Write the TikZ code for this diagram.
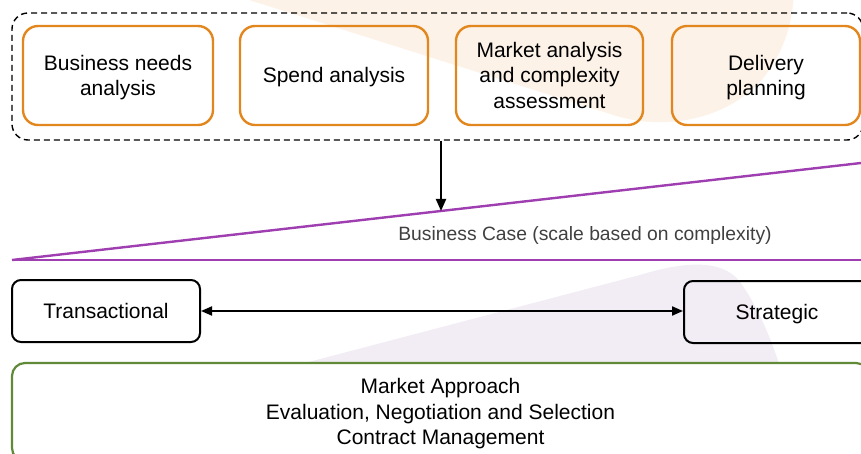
\documentclass[tikz,border=0pt]{standalone}
\usepackage{fontspec}
\setmainfont{Liberation Sans}
\usetikzlibrary{arrows.meta}
\definecolor{stageorange}{RGB}{226,135,30}
\definecolor{casepurple}{RGB}{158,62,176}
\definecolor{approachgreen}{RGB}{96,138,56}
\definecolor{tintorange}{RGB}{252,242,232}
\definecolor{tintpurple}{RGB}{242,236,244}
\definecolor{casegray}{RGB}{64,64,64}
% centred lines of text, lowered slightly inside their boxes
\newcommand\boxlines[1]{\raisebox{-2.2pt}[\height][\depth]{\begin{tabular}{@{}c@{}}#1\end{tabular}}}
\tikzset{
  stagebox/.style={draw=stageorange, line width=2.4pt, rounded corners=15pt,
    minimum height=99pt, inner sep=0pt,
    font=\fontsize{21}{25.5}\selectfont},
  groupbox/.style={draw=black, line width=1.4pt, dash pattern=on 6pt off 4pt,
    rounded corners=16pt, minimum width=851pt, minimum height=127pt, inner sep=0pt},
  typebox/.style={draw=black, line width=2pt, rounded corners=9pt,
    minimum height=62pt, inner sep=0pt, font=\fontsize{21}{25}\selectfont},
  approachbox/.style={draw=approachgreen, fill=white, line width=2.2pt, rounded corners=13pt,
    minimum width=857pt, minimum height=98pt, inner sep=0pt,
    font=\fontsize{21}{25.5}\selectfont},
  caseline/.style={draw=casepurple, line width=2.4pt},
  flow/.style={line width=2pt, -{Triangle[length=12pt,width=10pt]}},
  span/.style={line width=2pt, {Triangle[length=11pt,width=9pt]}-{Triangle[length=11pt,width=9pt]}},
}
\begin{document}
\begin{tikzpicture}[x=1pt, y=-1pt]
\useasboundingbox (0,0) rectangle (861,454);

% soft background shapes
\fill[tintorange] (230,-6) -- (610,114)
  .. controls (660,131) and (722,122) .. (760,82)
  .. controls (784,54) and (792,24) .. (794,-6) -- cycle;
\fill[tintpurple] (164,400) -- (640,275)
  .. controls (682,262) and (722,258) .. (740,282)
  .. controls (756,304) and (772,338) .. (784,380)
  -- (790,400) -- cycle;

% preparation stages
\node[groupbox] (group) at (437.5,76.5) {};
\node[stagebox, minimum width=190pt] (needs) at (118,75.5) {\boxlines{Business needs\\analysis}};
\node[stagebox, minimum width=188pt] (spend) at (334,75.5) {\boxlines{Spend analysis}};
\node[stagebox, minimum width=187pt] (market) at (549.5,75.5) {\boxlines{Market analysis\\and complexity\\assessment}};
\node[stagebox, minimum width=188pt] (delivery) at (766,75.5) {\boxlines{Delivery\\planning}};

% business case wedge
\coordinate (apex) at (12,260);
\coordinate (topend) at (875,161.4);
\coordinate (baseend) at (875,260);
\coordinate (hit) at (441,211);
\draw[caseline] (apex) -- (topend);
\draw[caseline] (apex) -- (baseend);
\node[text=casegray, font=\fontsize{19.3}{23}\selectfont] (case) at (585,236)
  {Business Case (scale based on complexity)};
\draw[flow] (group.south -| hit) -- (hit);

% sourcing spectrum
\node[typebox, minimum width=188pt] (trans) at (106,311) {\boxlines{Transactional}};
\node[typebox, minimum width=186pt] (strat) at (777,312) {\boxlines{Strategic}};
\draw[span] (trans.east) -- (strat.west |- trans.east);

% downstream activities
\node[approachbox] (approach) at (440.5,412)
  {\boxlines{Market Approach\\Evaluation, Negotiation and Selection\\Contract Management}};
\end{tikzpicture}
\end{document}
